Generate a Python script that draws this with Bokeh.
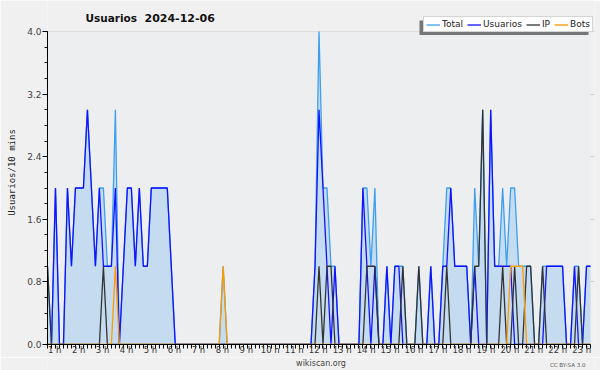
from bokeh.plotting import figure
from bokeh.layouts import column
from bokeh.models import (Range1d, FixedTicker, Legend, LegendItem, Label,
                          BoxAnnotation, Title)
from bokeh.embed import file_html
from bokeh.resources import INLINE

# ---- data (10-minute samples, starting at 1 h) ----
start_hour = 1
step_hours = 1 / 6

users = [
    0, 0, 2, 0, 0, 2, 1, 2, 2, 2,
    3, 2, 1, 2, 1, 1, 1, 2, 0, 1,
    2, 2, 1, 2, 1, 1, 2, 2, 2, 2,
    2, 1, 0, 0, 0, 0, 0, 0, 0, 0,
    0, 0, 0, 0, 0, 0, 0, 0, 0, 0,
    0, 0, 0, 0, 0, 0, 0, 0, 0, 0,
    0, 0, 0, 0, 0, 0, 0, 1, 3, 2,
    1, 0, 1, 0, 0, 0, 0, 0, 0, 2,
    1, 0, 1, 0, 0, 1, 0, 1, 1, 0,
    0, 0, 0, 0, 0, 0, 1, 0, 0, 1,
    1, 2, 1, 1, 1, 1, 0, 1, 0, 0,
    0, 3, 1, 1, 1, 1, 1, 0, 0, 0,
    0, 0, 0, 0, 0, 1, 1, 1, 1, 1,
    0, 0, 1, 0, 0, 1, 1,
]
ip = [
    1, 0, 0, 0, 0, 0, 0, 0, 0, 0,
    0, 0, 0, 0, 1, 0, 0, 0, 0, 0,
    0, 0, 0, 0, 0, 0, 0, 0, 0, 0,
    0, 0, 0, 0, 0, 0, 0, 0, 0, 0,
    0, 0, 0, 0, 0, 0, 0, 0, 0, 0,
    0, 0, 0, 0, 0, 0, 0, 0, 0, 0,
    0, 0, 0, 0, 0, 0, 0, 0, 1, 0,
    1, 1, 0, 0, 0, 0, 0, 0, 0, 0,
    1, 1, 1, 0, 0, 0, 0, 0, 0, 1,
    0, 0, 0, 1, 0, 0, 0, 0, 0, 0,
    1, 0, 0, 0, 0, 0, 0, 1, 1, 3,
    0, 0, 0, 0, 1, 0, 0, 1, 0, 0,
    1, 1, 0, 0, 1, 0, 0, 0, 0, 0,
    0, 0, 0, 1, 0, 0, 0,
]
bots = [
    0, 0, 0, 0, 0, 0, 0, 0, 0, 0,
    0, 0, 0, 0, 0, 0, 0, 1, 0, 0,
    0, 0, 0, 0, 0, 0, 0, 0, 0, 0,
    0, 0, 0, 0, 0, 0, 0, 0, 0, 0,
    0, 0, 0, 0, 1, 0, 0, 0, 0, 0,
    0, 0, 0, 0, 0, 0, 0, 0, 0, 0,
    0, 0, 0, 0, 0, 0, 0, 0, 0, 0,
    0, 0, 0, 0, 0, 0, 0, 0, 0, 0,
    0, 0, 0, 0, 0, 0, 0, 0, 0, 0,
    0, 0, 0, 0, 0, 0, 0, 0, 0, 0,
    0, 0, 0, 0, 0, 0, 0, 0, 0, 0,
    0, 0, 0, 0, 0, 0, 1, 1, 1, 1,
    0, 0, 0, 0, 0, 0, 0, 0, 0, 0,
    0, 0, 0, 0, 0, 0, 0,
]
total = [
    1, 0, 2, 0, 0, 2, 1, 2, 2, 2,
    3, 2, 1, 2, 2, 1, 1, 3, 0, 1,
    2, 2, 1, 2, 1, 1, 2, 2, 2, 2,
    2, 1, 0, 0, 0, 0, 0, 0, 0, 0,
    0, 0, 0, 0, 1, 0, 0, 0, 0, 0,
    0, 0, 0, 0, 0, 0, 0, 0, 0, 0,
    0, 0, 0, 0, 0, 0, 0, 1, 4, 2,
    2, 1, 1, 0, 0, 0, 0, 0, 0, 2,
    2, 1, 2, 0, 0, 1, 0, 1, 1, 1,
    0, 0, 0, 1, 0, 0, 1, 0, 0, 1,
    2, 2, 1, 1, 1, 1, 0, 2, 1, 3,
    0, 3, 1, 1, 2, 1, 2, 2, 1, 1,
    1, 1, 0, 0, 1, 1, 1, 1, 1, 1,
    0, 0, 1, 1, 0, 1, 1,
]

hour_ticks = list(range(1, 24))
hour_labels = [f"{h} h" for h in hour_ticks]
y_ticks = [0.0, 0.8, 1.6, 2.4, 3.2, 4.0]
y_labels = ["0.0", "0.8", "1.6", "2.4", "3.2", "4.0"]

title_word = "Usuarios"
title_date = "2024-12-06"
y_label = "Usuarios/10 mins"
series_names = ["Total", "Usuarios", "IP", "Bots"]
footer_site = "wikiscan.org"
footer_license = "CC BY-SA 3.0"

times = [start_hour + i * step_hours for i in range(len(users))]

BG = "#f0f0f0"
PX_PER_UNIT = 313 / 4.0          # 4.0 sits 313 px above 0.0
TOP_PAD = 31                     # px above the 4.0 line
PX_PER_HOUR = 24
FRAME_W = 548

p = figure(width=600, height=357, output_backend="svg", toolbar_location=None,
           x_range=Range1d(times[0], times[0] + FRAME_W / PX_PER_HOUR),
           y_range=Range1d(0, 4 + TOP_PAD / PX_PER_UNIT),
           min_border_left=46, min_border_right=600 - 46 - FRAME_W,
           min_border_top=0, min_border_bottom=13)
p.title.visible = False
p.border_fill_color = BG
p.background_fill_color = BG
p.outline_line_color = None

# plotting area background
p.add_layout(BoxAnnotation(bottom=0, top=4, left=times[0], right=times[-1],
                           fill_color="#edeef0", fill_alpha=1,
                           line_color=None, level="underlay"))

# fill + lines
p.varea(x=times, y1=[0] * len(total), y2=total, fill_color="#c5dcf0")
r_total = p.line(times, total, line_color="#3d9ff0", line_width=1.3)
r_users = p.line(times, users, line_color="#1212ff", line_width=1.3)
r_ip = p.line(times, ip, line_color="#333333", line_width=1.3)
r_bots = p.line(times, bots, line_color="#ff9a00", line_width=1.3)

# x axis: tick marks every 10 minutes, hour labels just right of the hour mark
label_pos = [h + 0.3 for h in hour_ticks]
p.xaxis.ticker = FixedTicker(ticks=label_pos, minor_ticks=times)
p.xaxis.major_label_overrides = dict(zip(label_pos, hour_labels))
p.xaxis.bounds = (times[0], times[-1])
p.xaxis.major_tick_in = 0
p.xaxis.major_tick_out = 0
p.xaxis.minor_tick_in = 0
p.xaxis.minor_tick_out = 4
p.xaxis.major_label_standoff = -4
p.xaxis.major_label_text_font = "DejaVu Sans"
p.xaxis.major_label_text_font_size = "8.5px"
p.xaxis.major_label_text_color = "#333333"
p.xaxis.axis_line_color = "black"

minor_y = [i * 0.2 for i in range(21)]
p.yaxis.ticker = FixedTicker(ticks=y_ticks, minor_ticks=minor_y)
p.yaxis.major_label_overrides = dict(zip(y_ticks, y_labels))
p.yaxis.bounds = (0, 4)
p.yaxis.major_tick_in = 0
p.yaxis.major_tick_out = 5
p.yaxis.minor_tick_in = 0
p.yaxis.minor_tick_out = 3
p.yaxis.major_label_standoff = 1
p.yaxis.major_label_text_font = "DejaVu Sans"
p.yaxis.major_label_text_font_size = "9px"
p.yaxis.major_label_text_color = "#444444"
p.yaxis.axis_line_color = "black"

# y-axis caption as a left-side title, shifted down to the middle of 0..4
p.add_layout(Title(text=y_label, align="center", vertical_align="top",
                   offset=-15, standoff=12,
                   text_font="DejaVu Sans Mono", text_font_size="9px",
                   text_font_style="normal", text_color="#222222"), "left")

p.xgrid.visible = False
p.ygrid.ticker = FixedTicker(ticks=y_ticks)
p.ygrid.grid_line_color = "#cccccc"
p.ygrid.bounds = (times[0], times[-1])

# title (two words, wide gap as in the original)
for tx, tt, fs in [(85, title_word, "10.5px"), (144, title_date, "11px")]:
    p.add_layout(Label(x=tx, y=17, x_units="canvas", y_units="canvas", text=tt,
                       text_font="DejaVu Sans", text_font_style="bold",
                       text_font_size=fs, text_baseline="middle",
                       text_color="#111111"))

# legend shadow + legend
p.add_layout(BoxAnnotation(left=419, right=588, top=20, bottom=34.5,
                           left_units="canvas", right_units="canvas",
                           top_units="canvas", bottom_units="canvas",
                           fill_color="#777777", fill_alpha=1, line_color=None))
legend = Legend(items=[LegendItem(label=n, renderers=[r]) for n, r in
                       zip(series_names, [r_total, r_users, r_ip, r_bots])],
                orientation="horizontal", location=(376, 312),
                glyph_width=14, glyph_height=9, label_height=9, label_width=0,
                label_standoff=2, spacing=4, padding=2, margin=0,
                label_text_font="DejaVu Sans", label_text_font_size="9px",
                label_text_color="#222222",
                border_line_color="#aaaaaa", background_fill_color="white",
                background_fill_alpha=1)
p.add_layout(legend, "center")

# footer strip with the credits
footer = figure(width=600, height=13, output_backend="svg", toolbar_location=None,
                x_range=Range1d(0, 600), y_range=Range1d(0, 13),
                min_border=0, x_axis_location=None, y_axis_location=None)
footer.title.visible = False
footer.outline_line_color = None
footer.border_fill_color = BG
footer.background_fill_color = BG
footer.xgrid.visible = False
footer.ygrid.visible = False
footer.add_layout(Label(x=300, y=7, text=footer_site, text_font="DejaVu Sans",
                        text_font_size="8px", text_align="center",
                        text_baseline="alphabetic", text_color="#444444"))
footer.add_layout(Label(x=590, y=6, text=footer_license, text_font="DejaVu Sans",
                        text_font_size="5.5px", text_align="right",
                        text_baseline="alphabetic", text_color="#555555"))

layout = column(p, footer, spacing=0)
open("out.html", "w").write(file_html(layout, INLINE))
